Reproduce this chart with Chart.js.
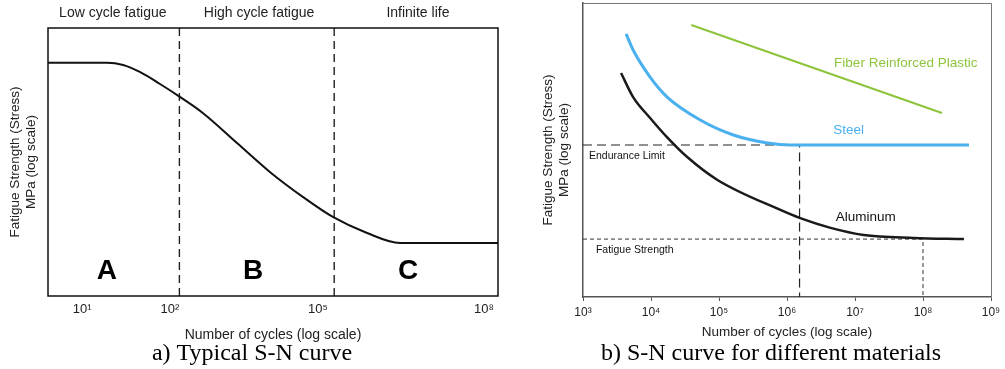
<!DOCTYPE html>
<html><head><meta charset="utf-8">
<script src="https://cdn.jsdelivr.net/npm/chart.js@4/dist/chart.umd.min.js"></script>
<style>
html,body{margin:0;padding:0;background:#fff;overflow:hidden}
#wrap{position:relative;width:1005px;height:369px;background:#fff}
#pa{position:absolute;left:0;top:0;width:505px;height:369px}
#pb{position:absolute;left:505px;top:0;width:500px;height:369px}
</style></head><body>
<div id="wrap"><div id="pa"><canvas id="ca"></canvas></div><div id="pb"><canvas id="cb"></canvas></div></div>
<script>
// ---------- Panel a: typical S-N curve (schematic cycle axis) ----------
const aCyclePos = [0, 13.1, 16.7, 20.4, 24.9, 29.3, 34.4, 42.0, 49.3, 56.7, 63.3, 70.9, 78.2, 100];
const aStress   = [87.05, 87.05, 86.2, 83.6, 79.1, 74.3, 68.3, 57.1, 46.3, 36.9, 29.5, 23.5, 19.8, 19.8];
const aTickValues = [7.6, 27.1, 60, 96.9];
const aTickLabels = ['10\u00B9', '10\u00B2', '10\u2075', '10\u2078'];
const aBoundaries = [29.2, 63.6];
const aRegionNames = ['Low cycle fatigue', 'High cycle fatigue', 'Infinite life'];
const aRegionLetters = ['A', 'B', 'C'];

// ---------- Panel b: S-N curves for different materials ----------
const steelCycles = [4.3e3, 5.46e3, 9.7e3, 1.73e4, 5.3e4, 1.63e5, 5.16e5, 1.13e6, 4.74e8];
const steelStress = [89.5, 84.0, 74.8, 68.0, 60.2, 55.1, 52.4, 51.7, 51.7];
const aluCycles = [3.63e3, 5.46e3, 9.7e3, 1.73e4, 3.41e4, 9.5e4, 8.0e5, 1.53e6, 4.38e6, 1.34e7, 7.3e7, 4.0e8];
const aluStress = [76.2, 68.0, 60.9, 54.3, 47.6, 39.8, 29.6, 26.9, 23.5, 21.1, 20.1, 19.7];
const frpCycles = [3.91e4, 1.9e8];
const frpStress = [92.5, 62.6];
const enduranceLimit = [51.7];
const enduranceCycles = [1.53e6];
const fatigueStrength = [19.7];
const fatigueCycles = [1e8];
const bTickValues = [1e3, 1e4, 1e5, 1e6, 1e7, 1e8, 1e9];
const bTickLabels = ['10\u00B3', '10\u2074', '10\u2075', '10\u2076', '10\u2077', '10\u2078', '10\u2079'];

const SANS = "'Liberation Sans', Arial, sans-serif";
const SERIF = "'Liberation Serif', 'Times New Roman', serif";

const pts = (xs, ys) => xs.map((x, i) => ({x, y: ys[i]}));

// panel a annotation placement (not data)
const aLayout = {regionCenters: [14.4, 46.9, 82.2], regionY: 13, letterCenters: [13.1, 45.6, 80.0], letterY: 9.3};

const boxA = {
  id: 'boxA',
  afterDatasetsDraw(chart) {
    const {ctx, chartArea: c} = chart;
    ctx.save();
    ctx.strokeStyle = '#111'; ctx.lineWidth = 1.5;
    ctx.strokeRect(c.left, c.top, c.right - c.left, c.bottom - c.top);
    ctx.restore();
  },
  afterDraw(chart) {
    const {ctx} = chart; const xs = chart.scales.x, ys = chart.scales.y;
    ctx.save();
    ctx.fillStyle = '#222'; ctx.textAlign = 'center'; ctx.textBaseline = 'middle';
    ctx.font = '14px ' + SANS;
    aRegionNames.forEach((t, i) => ctx.fillText(t, xs.getPixelForValue(aLayout.regionCenters[i]), aLayout.regionY));
    ctx.fillStyle = '#000';
    ctx.font = 'bold 28px ' + SANS;
    aRegionLetters.forEach((t, i) => ctx.fillText(t, xs.getPixelForValue(aLayout.letterCenters[i]), ys.getPixelForValue(aLayout.letterY)));
    ctx.font = '24px ' + SERIF; ctx.fillStyle = '#000';
    ctx.fillText('a) Typical S-N curve', 252, 354);
    ctx.restore();
  }
};

new Chart(document.getElementById('ca'), {
  type: 'line',
  data: {datasets: [
    {data: pts(aCyclePos, aStress), borderColor: '#111', borderWidth: 2, pointRadius: 0, cubicInterpolationMode: 'monotone'},
    ...aBoundaries.map(b => ({data: [{x: b, y: 0}, {x: b, y: 100}], borderColor: '#222', borderWidth: 1.4, borderDash: [8, 5], pointRadius: 0}))
  ]},
  options: {
    responsive: true, maintainAspectRatio: false, animation: false, devicePixelRatio: 1,
    layout: {padding: {left: 0, right: 7, top: 28, bottom: 0}},
    plugins: {legend: {display: false}, tooltip: {enabled: false}},
    scales: {
      x: {type: 'linear', min: 0, max: 100, grid: {display: false, drawTicks: false}, border: {display: false},
        afterBuildTicks: s => { s.ticks = aTickValues.map(v => ({value: v})); },
        ticks: {callback: (v, i) => aTickLabels[i], autoSkip: false, maxRotation: 0, padding: 6, color: '#222', font: {family: SANS, size: 13}},
        title: {display: true, text: 'Number of cycles (log scale)', color: '#222', font: {family: SANS, size: 14}, padding: {top: 0, bottom: 25}},
        afterFit: s => { s.height = 73; }},
      y: {type: 'linear', min: 0, max: 100, grid: {display: false}, border: {display: false}, ticks: {display: false},
        title: {display: true, text: ['Fatigue Strength (Stress)', 'MPa (log scale)'], color: '#222', font: {family: SANS, size: 13.5}, padding: {top: 7, bottom: 0}},
        afterFit: s => { s.width = 48; }}
    }
  },
  plugins: [boxA]
});

// panel b annotation placement (not data)
const bLabels = [
  {text: 'Fiber Reinforced Plastic', x: 5.58e7, y: 79.6, color: '#8cc43c', size: 13.5, align: 'center'},
  {text: 'Steel', x: 8.07e6, y: 56.8, color: '#4ab0ee', size: 13.5, align: 'center'},
  {text: 'Aluminum', x: 1.44e7, y: 27.2, color: '#111', size: 13.5, align: 'center'},
  {text: 'Endurance Limit', x: 1.225e3, y: 47.8, color: '#111', size: 10.5, align: 'left'},
  {text: 'Fatigue Strength', x: 1.55e3, y: 16.0, color: '#111', size: 10.5, align: 'left'}
];

const boxB = {
  id: 'boxB',
  beforeDatasetsDraw(chart) {
    const {ctx, chartArea: c} = chart;
    ctx.save();
    ctx.strokeStyle = '#777'; ctx.lineWidth = 1;
    ctx.beginPath();
    ctx.moveTo(c.left, c.top + 0.5); ctx.lineTo(c.right + 0.5, c.top + 0.5); ctx.lineTo(c.right + 0.5, c.bottom);
    ctx.stroke();
    ctx.restore();
  },
  afterDraw(chart) {
    const {ctx} = chart; const xs = chart.scales.x, ys = chart.scales.y;
    ctx.save();
    ctx.textBaseline = 'middle';
    bLabels.forEach(l => {
      ctx.font = l.size + 'px ' + SANS; ctx.fillStyle = l.color; ctx.textAlign = l.align;
      ctx.fillText(l.text, xs.getPixelForValue(l.x), ys.getPixelForValue(l.y));
    });
    ctx.font = '24px ' + SERIF; ctx.fillStyle = '#000'; ctx.textAlign = 'center';
    ctx.fillText('b) S-N curve for different materials', 266, 354);
    ctx.restore();
  }
};

new Chart(document.getElementById('cb'), {
  type: 'line',
  data: {datasets: [
    {data: pts(frpCycles, frpStress), borderColor: '#8cc43c', borderWidth: 2, pointRadius: 0},
    {data: pts(steelCycles, steelStress), borderColor: '#4ab0ee', borderWidth: 3, pointRadius: 0, cubicInterpolationMode: 'monotone'},
    {data: pts(aluCycles, aluStress), borderColor: '#1a1a1a', borderWidth: 2.5, pointRadius: 0, cubicInterpolationMode: 'monotone'},
    {data: [{x: 1e3, y: enduranceLimit[0]}, {x: enduranceCycles[0], y: enduranceLimit[0]}, {x: enduranceCycles[0], y: 0}], borderColor: '#222', borderWidth: 1.2, borderDash: [9, 5], pointRadius: 0},
    {data: [{x: 1e3, y: fatigueStrength[0]}, {x: fatigueCycles[0], y: fatigueStrength[0]}, {x: fatigueCycles[0], y: 0}], borderColor: '#333', borderWidth: 1, borderDash: [4, 3], pointRadius: 0}
  ]},
  options: {
    responsive: true, maintainAspectRatio: false, animation: false, devicePixelRatio: 1,
    layout: {padding: {left: 0, right: 14, top: 3, bottom: 0}},
    plugins: {legend: {display: false}, tooltip: {enabled: false}},
    scales: {
      x: {type: 'logarithmic', min: 1e3, max: 1e9,
        grid: {drawOnChartArea: false, drawTicks: true, tickLength: 4, color: '#555'},
        border: {display: true, color: '#555', width: 1.5},
        afterBuildTicks: s => { s.ticks = bTickValues.map(v => ({value: v})); },
        ticks: {callback: (v, i) => bTickLabels[i], autoSkip: false, maxRotation: 0, padding: 4, color: '#222', font: {family: SANS, size: 12}},
        title: {display: true, text: 'Number of cycles (log scale)', color: '#222', font: {family: SANS, size: 13.5}, padding: {top: 0, bottom: 29}},
        afterFit: s => { s.height = 72; }},
      y: {type: 'linear', min: 0, max: 100, grid: {display: false}, border: {display: true, color: '#555', width: 1.5}, ticks: {display: false},
        title: {display: true, text: ['Fatigue Strength (Stress)', 'MPa (log scale)'], color: '#222', font: {family: SANS, size: 13.5}, padding: {top: 35, bottom: 0}},
        afterFit: s => { s.width = 78; }}
    }
  },
  plugins: [boxB]
});
</script>
</body></html>
